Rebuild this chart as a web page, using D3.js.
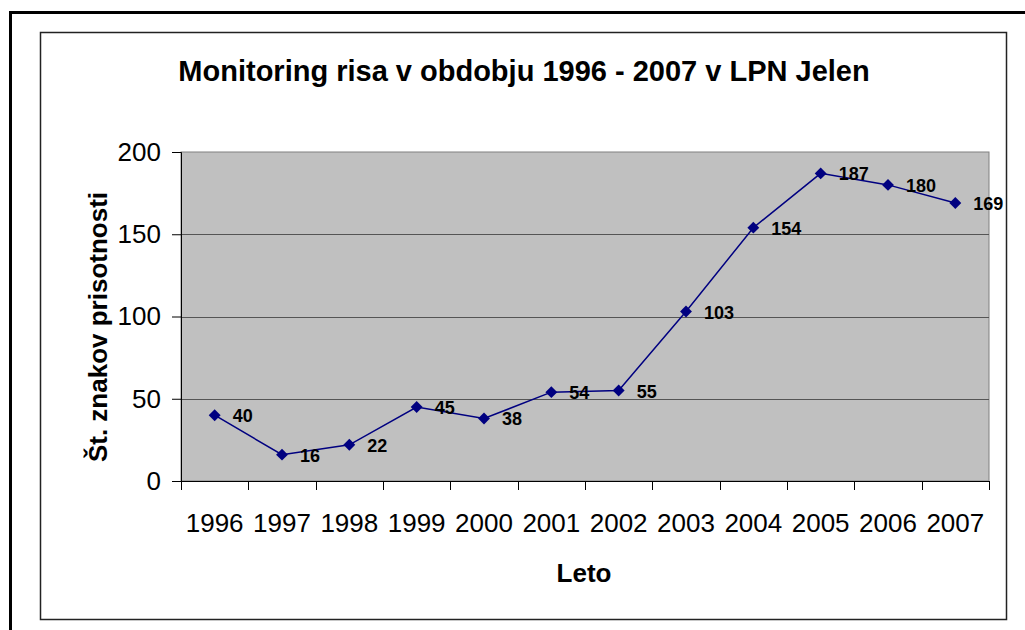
<!DOCTYPE html>
<html>
<head>
<meta charset="utf-8">
<script src="https://cdn.jsdelivr.net/npm/d3@7"></script>
<style>
  body { margin: 0; background: #fff; }
  text { font-family: Arial, "Liberation Sans", sans-serif; }
</style>
</head>
<body>
<svg id="chart" width="1025" height="630"></svg>
<script>
const years = ["1996", "1997", "1998", "1999", "2000", "2001", "2002", "2003", "2004", "2005", "2006", "2007"];
const counts = [40, 16, 22, 45, 38, 54, 55, 103, 154, 187, 180, 169];
const yTicks = [0, 50, 100, 150, 200];

const svg = d3.select("#chart");
const plot = { left: 181, top: 152, right: 989, bottom: 481 };

// outer frame (cut off on right and bottom)
svg.append("rect")
  .attr("x", 10.5).attr("y", 12.5)
  .attr("width", 1100).attr("height", 700)
  .attr("fill", "none").attr("stroke", "#000").attr("stroke-width", 3);

// chart area border
svg.append("rect")
  .attr("x", 40.5).attr("y", 32.5)
  .attr("width", 966).attr("height", 587)
  .attr("fill", "#fff").attr("stroke", "#222").attr("stroke-width", 1.5);

const x = d3.scaleBand().domain(years).range([plot.left, plot.right]);
const y = d3.scaleLinear().domain([0, 200]).range([plot.bottom, plot.top]);

// plot background
svg.append("rect")
  .attr("x", plot.left).attr("y", plot.top)
  .attr("width", plot.right - plot.left).attr("height", plot.bottom - plot.top)
  .attr("fill", "#c0c0c0").attr("stroke", "#808080").attr("stroke-width", 1);

// gridlines
svg.append("g")
  .selectAll("line")
  .data(yTicks.slice(1, -1))
  .join("line")
  .attr("x1", plot.left).attr("x2", plot.right)
  .attr("y1", d => Math.round(y(d)) + 0.5).attr("y2", d => Math.round(y(d)) + 0.5)
  .attr("stroke", "#555").attr("stroke-width", 1);

// y axis
const yAxis = svg.append("g")
  .attr("transform", `translate(${plot.left},0)`)
  .call(d3.axisLeft(y).tickValues(yTicks).tickSize(9).tickPadding(11));
yAxis.select(".domain").attr("stroke", "#000");
yAxis.selectAll(".tick line").attr("stroke", "#000");
yAxis.selectAll("text").attr("font-size", 26).attr("fill", "#000")
  .attr("font-family", "Arial, 'Liberation Sans', sans-serif");

// x axis: ticks at category boundaries
const xAxis = svg.append("g")
  .attr("transform", `translate(0,${plot.bottom})`);
xAxis.append("line")
  .attr("x1", plot.left).attr("x2", plot.right)
  .attr("y1", 0.5).attr("y2", 0.5).attr("stroke", "#000");
xAxis.selectAll(".tk")
  .data(years.concat(["end"]))
  .join("line")
  .attr("class", "tk")
  .attr("x1", (d, i) => Math.round(plot.left + i * x.step()) + 0.5)
  .attr("x2", (d, i) => Math.round(plot.left + i * x.step()) + 0.5)
  .attr("y1", 0).attr("y2", 9).attr("stroke", "#000");
xAxis.selectAll(".lbl")
  .data(years)
  .join("text")
  .attr("class", "lbl")
  .attr("x", d => x(d) + x.bandwidth() / 2)
  .attr("y", 51)
  .attr("text-anchor", "middle")
  .attr("font-size", 26)
  .text(d => d);

// series line
const line = d3.line()
  .x((d, i) => x(years[i]) + x.bandwidth() / 2)
  .y(d => y(d));
svg.append("path")
  .datum(counts)
  .attr("d", line)
  .attr("fill", "none").attr("stroke", "#000080").attr("stroke-width", 1.5);

// markers
svg.append("g")
  .selectAll("path")
  .data(counts)
  .join("path")
  .attr("d", d3.symbol(d3.symbolDiamond2, 90))
  .attr("transform", (d, i) => `translate(${x(years[i]) + x.bandwidth() / 2},${y(d)})`)
  .attr("fill", "#000080");

// data labels
svg.append("g")
  .selectAll("text")
  .data(counts)
  .join("text")
  .attr("x", (d, i) => x(years[i]) + x.bandwidth() / 2 + 18)
  .attr("y", d => y(d) + 7)
  .attr("font-size", 18).attr("font-weight", "bold")
  .text(d => d);

// title
svg.append("text")
  .attr("x", 524).attr("y", 81)
  .attr("text-anchor", "middle")
  .attr("font-size", 29).attr("font-weight", "bold")
  .text("Monitoring risa v obdobju 1996 - 2007 v LPN Jelen");

// axis titles
svg.append("text")
  .attr("transform", "translate(107,327) rotate(-90)")
  .attr("text-anchor", "middle")
  .attr("font-size", 26).attr("font-weight", "bold")
  .text("Št. znakov prisotnosti");

svg.append("text")
  .attr("x", 584).attr("y", 582)
  .attr("text-anchor", "middle")
  .attr("font-size", 26).attr("font-weight", "bold")
  .text("Leto");
</script>
</body>
</html>
